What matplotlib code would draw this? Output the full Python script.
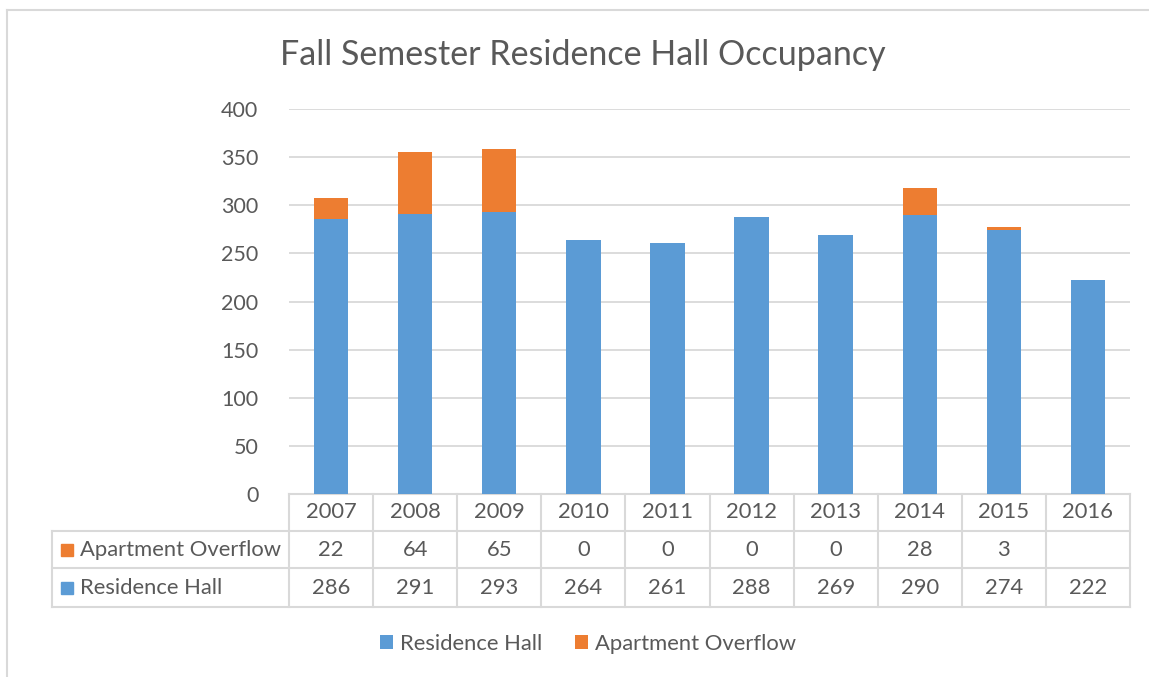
#!/usr/bin/env python3
"""Fall semester residence hall occupancy: stacked bars with a data table."""

import matplotlib

matplotlib.use("Agg")
import matplotlib.pyplot as plt
from matplotlib.patches import Rectangle
from matplotlib.transforms import blended_transform_factory


YEARS = ["2007", "2008", "2009", "2010", "2011", "2012", "2013", "2014", "2015", "2016"]
RESIDENCE_HALL = [286, 291, 293, 264, 261, 288, 269, 290, 274, 222]
APARTMENT_OVERFLOW = [22, 64, 65, 0, 0, 0, 0, 28, 3, None]

BLUE = "#5B9BD5"
ORANGE = "#ED7D31"
TEXT = "#595959"
GRID = "#D9D9D9"
W, H = 1149, 677
FS = 15.8

plt.rcParams.update({"font.family": ["Lato", "DejaVu Sans"], "text.color": TEXT})


def fx(px: float) -> float:
    return px / W


def fy(py: float) -> float:
    return 1 - py / H


def main() -> None:
    fig = plt.figure(figsize=(W / 100, H / 100), dpi=100)
    ax = fig.add_axes([fx(289), fy(494), fx(1130) - fx(289), fy(109) - fy(494)])

    x = list(range(len(YEARS)))
    overflow = [v if v is not None else 0 for v in APARTMENT_OVERFLOW]
    b1 = ax.bar(x, RESIDENCE_HALL, width=0.41, color=BLUE, label="Residence Hall", zorder=3)
    b2 = ax.bar(x, overflow, width=0.41, bottom=RESIDENCE_HALL, color=ORANGE,
                label="Apartment Overflow", zorder=3)

    ax.set_xlim(-0.5, len(YEARS) - 0.5)
    ax.set_ylim(0, 400)
    ax.set_yticks(range(0, 401, 50))
    ax.yaxis.grid(True, color=GRID, linewidth=1.3, zorder=0)
    ax.set_xticks([])
    for spine in ax.spines.values():
        spine.set_visible(False)
    ax.tick_params(axis="y", length=0, pad=22, labelsize=15.5, labelcolor=TEXT)

    fig.text(fx(583), fy(55), "Fall Semester Residence Hall Occupancy",
             ha="center", va="center", fontsize=24.5, color=TEXT)

    # data table under the axis
    tr = blended_transform_factory(ax.transData, fig.transFigure)
    rows = [494, 531, 568, 607]
    lw = 1.5
    ax.plot([-0.5, len(YEARS) - 0.5], [fy(rows[0])] * 2, transform=tr, color=GRID,
            lw=lw, clip_on=False)
    for r in rows[1:]:
        fig.add_artist(plt.Line2D([fx(52), fx(1130)], [fy(r)] * 2, color=GRID, lw=lw))
    for i in range(len(YEARS) + 1):
        ax.plot([i - 0.5, i - 0.5], [fy(rows[0]), fy(rows[-1])], transform=tr,
                color=GRID, lw=lw, clip_on=False)
    fig.add_artist(plt.Line2D([fx(52), fx(52)], [fy(rows[1]), fy(rows[-1])], color=GRID, lw=lw))

    def mid(a, b):
        return fy((a + b) / 2)

    for i, year in enumerate(YEARS):
        ax.text(i, mid(rows[0], rows[1]), year, transform=tr, ha="center", va="center",
                fontsize=FS, color=TEXT)
        if APARTMENT_OVERFLOW[i] is not None:
            ax.text(i, mid(rows[1], rows[2]), str(APARTMENT_OVERFLOW[i]), transform=tr,
                    ha="center", va="center", fontsize=FS, color=TEXT)
        ax.text(i, mid(rows[2], rows[3]), str(RESIDENCE_HALL[i]), transform=tr,
                ha="center", va="center", fontsize=FS, color=TEXT)

    for (label, color), (a, b) in zip([("Apartment Overflow", ORANGE), ("Residence Hall", BLUE)],
                                      [(rows[1], rows[2]), (rows[2], rows[3])]):
        c = (a + b) / 2
        fig.add_artist(Rectangle((fx(61), fy(c + 6)), 12 / W, 12 / H, color=color,
                                 transform=fig.transFigure))
        fig.text(fx(80), fy(c), label, ha="left", va="center", fontsize=FS, color=TEXT)

    fig.legend(handles=[b1, b2], loc="center", bbox_to_anchor=(fx(588), fy(644)), ncol=2,
               frameon=False, fontsize=FS, handlelength=0.6, handleheight=0.6,
               handletextpad=0.3, columnspacing=1.5, labelcolor=TEXT)

    # outer chart frame
    fig.add_artist(plt.Line2D([fx(7), fx(7)], [fy(10), 0], color=GRID, lw=1.5))
    fig.add_artist(plt.Line2D([fx(7), 1], [fy(10), fy(10)], color=GRID, lw=1.5))

    fig.savefig("out.png", dpi=100, facecolor="white")
    plt.close(fig)


if __name__ == "__main__":
    main()
